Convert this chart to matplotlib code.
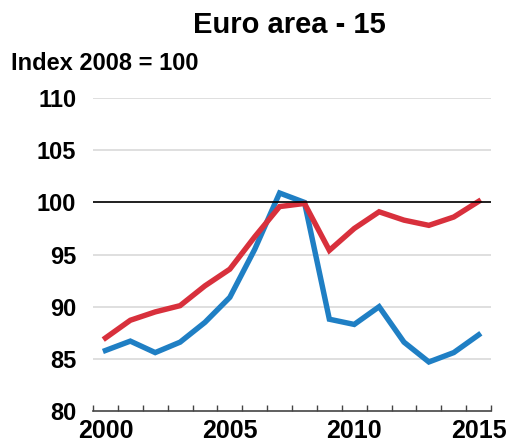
import matplotlib.pyplot as plt

plt.rcParams['font.family'] = ['Liberation Sans', 'DejaVu Sans']

years = list(range(2000, 2016))
blue = [85.8, 86.7, 85.6, 86.6, 88.5, 90.9, 95.5, 100.9, 100.0, 88.8, 88.3, 90.0, 86.6, 84.7, 85.6, 87.3]
red = [87.0, 88.7, 89.5, 90.1, 92.0, 93.6, 96.7, 99.6, 99.9, 95.4, 97.5, 99.1, 98.3, 97.8, 98.6, 100.1]
yticks = [80, 85, 90, 95, 100, 105, 110]
xlabels = [2000, 2005, 2010, 2015]

fig = plt.figure(figsize=(5.11, 4.46), dpi=100)
ax = fig.add_axes([0.182, 0.0785, 0.779, 0.7015])

# light grid lines
for v in yticks[1:]:
    ax.axhline(v, color='#d9d9d9', lw=1.2, zorder=1)
ax.axhline(100, color='black', lw=1.2, zorder=4)

ax.plot(years, blue, color='#1f7fc4', lw=3.9, solid_joinstyle='miter', zorder=3)
ax.plot(years, red, color='#d8303c', lw=3.9, solid_joinstyle='miter', zorder=3)

ax.set_xlim(1999.5, 2015.5)
ax.set_ylim(80, 110)

for s in ['top', 'right', 'left']:
    ax.spines[s].set_visible(False)
ax.spines['bottom'].set_color('#444444')
ax.spines['bottom'].set_linewidth(1.2)

# small ticks between years, labels every 5 years
ax.set_xticks([y + 0.5 for y in range(1999, 2016)])
ax.set_xticklabels([])
ax.tick_params(axis='x', direction='in', length=4, color='#444444', width=1)
ax.set_xticks(xlabels, minor=True)
ax.set_xticklabels([str(x) for x in xlabels], minor=True, fontsize=18, fontweight='bold')
ax.tick_params(axis='x', which='minor', length=0, pad=6)

ax.set_yticks(yticks)
ax.set_yticklabels([str(v) for v in yticks], fontsize=17, fontweight='bold')
ax.tick_params(axis='y', length=0, pad=12)

fig.text(0.567, 0.945, 'Euro area - 15', ha='center', va='center', fontsize=21, fontweight='bold')
fig.text(0.022, 0.858, 'Index 2008 = 100', ha='left', va='center', fontsize=17, fontweight='bold')

fig.savefig('out.png', dpi=100)
